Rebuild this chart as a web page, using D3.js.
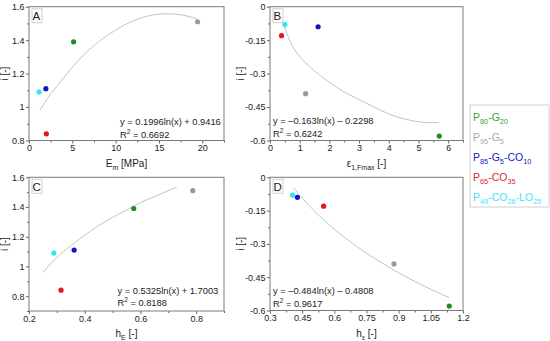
<!DOCTYPE html>
<html><head><meta charset="utf-8">
<script src="https://cdn.jsdelivr.net/npm/d3@7"></script>
<style>body{margin:0;background:#fff} text{font-family:Arial,"Liberation Sans",sans-serif;fill:#222}</style>
</head><body><svg id="c" width="550" height="341"></svg>
<script>
// ---- data ----
const seriesLabels = ["P_{80}-G_{20}", "P_{95}-G_{5}", "P_{85}-G_{5}-CO_{10}", "P_{65}-CO_{35}", "P_{49}-CO_{26}-LO_{25}"];
const seriesColors = ["#1e8c1e", "#999999", "#1414c8", "#e8141e", "#30e6f0"];
const legendColors = ["#36a336", "#a8a8a8", "#2020cc", "#e02828", "#3ee6f2"];

const iTens = [1.39, 1.51, 1.11, 0.84, 1.09];
const iEps = [-0.58, -0.39, -0.09, -0.13, -0.08];
const emVals = [5.15, 19.45, 1.95, 2.0, 1.16];
const epsVals = [5.7, 1.2, 1.62, 0.39, 0.5];
const hEVals = [0.576, 0.788, 0.362, 0.315, 0.289];
const hEpsVals = [1.136, 0.878, 0.428, 0.55, 0.405];

const fitAx = [1.24, 1.74, 2.52, 3.3, 5.2, 7.2, 9.1, 11.0, 13.0, 14.9, 16.1, 17.6, 19.4];
const fitAy = [0.98, 1.02, 1.08, 1.13, 1.25, 1.355, 1.43, 1.49, 1.534, 1.555, 1.558, 1.551, 1.528];
const fitBx = [0.47, 0.61, 0.84, 1.17, 1.61, 2.05, 2.6, 3.16, 3.72, 4.27, 4.83, 5.4, 5.69];
const fitBy = [-0.082, -0.135, -0.195, -0.247, -0.30, -0.344, -0.39, -0.427, -0.464, -0.494, -0.512, -0.52, -0.52];
const fitCx = [0.25, 0.3, 0.35, 0.4, 0.45, 0.5, 0.55, 0.6, 0.65, 0.7, 0.73];
const fitCy = [0.96, 1.06, 1.14, 1.21, 1.275, 1.33, 1.38, 1.43, 1.47, 1.51, 1.533];
const fitDx = [0.41, 0.5, 0.6, 0.7, 0.8, 0.9, 1.0, 1.1, 1.135];
const fitDy = [-0.048, -0.145, -0.234, -0.308, -0.373, -0.43, -0.481, -0.527, -0.542];

const xTicksA = [0, 5, 10, 15, 20];
const xTicksB = [0, 1, 2, 3, 4, 5, 6];
const xTicksC = [0.2, 0.4, 0.6, 0.8];
const xTicksD = [0.3, 0.45, 0.6, 0.75, 0.9, 1.05, 1.2];
const yTicksPos = [0.8, 1, 1.2, 1.4, 1.6];
const yTicksNeg = [0, -0.15, -0.3, -0.45, -0.6];

const equations = ["y = 0.1996ln(x) + 0.9416", "y = \u20130.163ln(x) \u2013 0.2298", "y = 0.5325ln(x) + 1.7003", "y = \u20130.484ln(x) \u2013 0.4808"];
const r2Labels = ["R^{2} = 0.6692", "R^{2} = 0.6242", "R^{2} = 0.8188", "R^{2} = 0.9617"];
const xTitles = ["E_{m} [MPa]", "\u03b5_{1,Fmax} [-]", "h_{E} [-]", "h_{\u03b5} [-]"];
const panelLetters = ["A", "B", "C", "D"];

// ---- layout ----
const panels = [
  {box:[29,224,6.7,140.5], xd:[0,22.5], yd:[0.8,1.6], xs:emVals, ys:iTens, fx:fitAx, fy:fitAy, xt:xTicksA, yt:yTicksPos, eq:[120,125], yl:21},
  {box:[270,463,6.7,140.5], xd:[0,6.5], yd:[-0.6,0], xs:epsVals, ys:iEps, fx:fitBx, fy:fitBy, xt:xTicksB, yt:yTicksNeg, eq:[273,124], yl:26},
  {box:[29,224,177.3,311], xd:[0.2,0.9], yd:[0.7,1.6], xs:hEVals, ys:iTens, fx:fitCx, fy:fitCy, xt:xTicksC, yt:yTicksPos, eq:[117.5,293.5], yl:21},
  {box:[270,463,177.3,310.5], xd:[0.3,1.2], yd:[-0.6,0], xs:hEpsVals, ys:iEps, fx:fitDx, fy:fitDy, xt:xTicksD, yt:yTicksNeg, eq:[273,294], yl:26}
];

const svg = d3.select("#c");

function rich(sel, str, size) {
  const parts = str.split(/(_\{[^}]*\}|\^\{[^}]*\})/).filter(s => s.length);
  let shift = 0;
  parts.forEach(p => {
    let t, fs = size, target;
    if (p.startsWith("_{")) { t = p.slice(2, -1); fs = size * 0.7; target = size * 0.3; }
    else if (p.startsWith("^{")) { t = p.slice(2, -1); fs = size * 0.7; target = -size * 0.38; }
    else { t = p; target = 0; }
    sel.append("tspan").attr("font-size", fs).attr("dy", target - shift).text(t);
    shift = target;
  });
}
const fmt = d => String(+d.toFixed(3));

panels.forEach((p, k) => {
  const [x0, x1, y0, y1] = p.box;
  const x = d3.scaleLinear().domain(p.xd).range([x0, x1]);
  const y = d3.scaleLinear().domain(p.yd).range([y1, y0]);
  const g = svg.append("g");

  // minor ticks
  const xs = p.xt[1] - p.xt[0], ysStep = Math.abs(p.yt[1] - p.yt[0]);
  const xMinor = d3.range(p.xd[0] + xs / 2 - 1e-9, p.xd[1] + 1e-9, xs).filter(v => !p.xt.some(t => Math.abs(t - v) < 1e-6));
  const yMin = Math.min(...p.yt);
  const yMinor = d3.range(yMin - ysStep / 2, p.yd[1] + 1e-9, ysStep / 2).filter(v => v >= p.yd[0] - 1e-9 && !p.yt.some(t => Math.abs(t - v) < 1e-6));

  g.append("g").attr("transform", `translate(0,${y1})`)
    .call(d3.axisBottom(x).tickValues(p.xt).tickSize(3).tickPadding(1.5).tickFormat(fmt));
  g.append("g").attr("transform", `translate(0,${y1})`)
    .call(d3.axisBottom(x).tickValues(xMinor).tickSize(2).tickFormat(""));
  g.append("g").attr("transform", `translate(${x0},0)`)
    .call(d3.axisLeft(y).tickValues(p.yt).tickSize(3).tickPadding(1.5).tickFormat(fmt));
  g.append("g").attr("transform", `translate(${x0},0)`)
    .call(d3.axisLeft(y).tickValues(yMinor).tickSize(2).tickFormat(""));
  g.selectAll(".domain").remove();
  g.selectAll(".tick line").attr("stroke", "#666");
  g.selectAll(".tick text").attr("font-size", 9).attr("fill", "#222").style("font-family", "Arial, 'Liberation Sans', sans-serif");

  g.append("rect").attr("x", x0).attr("y", y0).attr("width", x1 - x0).attr("height", y1 - y0)
    .attr("fill", "none").attr("stroke", "#7a7a7a").attr("stroke-width", 1);

  // fit curve
  const line = d3.line().x(d => x(d[0])).y(d => y(d[1])).curve(d3.curveMonotoneX);
  g.append("path").datum(p.fx.map((v, i) => [v, p.fy[i]])).attr("d", line)
    .attr("fill", "none").attr("stroke", "#c4c4c4").attr("stroke-width", 1);

  // points
  g.selectAll("circle.pt").data(p.xs.map((v, i) => ({x: v, y: p.ys[i], c: seriesColors[i]})))
    .join("circle").attr("class", "pt").attr("cx", d => x(d.x)).attr("cy", d => y(d.y)).attr("r", 2.6).attr("fill", d => d.c);

  // letter box
  g.append("rect").attr("x", x0 + 3).attr("y", y0 + 2).attr("width", 10).attr("height", 14)
    .attr("fill", "#fff").attr("stroke", "#d0d0d0");
  g.append("text").attr("x", x0 + 3.5).attr("y", y0 + 13.5).attr("font-size", 11.5).text(panelLetters[k]);

  // equation
  g.append("text").attr("x", p.eq[0]).attr("y", p.eq[1]).attr("font-size", 9.3).text(equations[k]);
  const r2 = g.append("text").attr("x", p.eq[0]).attr("y", p.eq[1] + 12.5);
  rich(r2, r2Labels[k], 9.3);

  // axis titles
  const xt = g.append("text").attr("x", (x0 + x1) / 2).attr("y", y1 + 26).attr("text-anchor", "middle");
  rich(xt, xTitles[k], 10);
  g.append("text").attr("transform", `translate(${x0 - p.yl},${(y0 + y1) / 2}) rotate(-90)`)
    .attr("text-anchor", "middle").attr("font-size", 10).text("i [-]");
});

// legend
const lg = svg.append("g");
lg.append("rect").attr("x", 470).attr("y", 105).attr("width", 79).attr("height", 102)
  .attr("fill", "#fff").attr("stroke", "#d0d0d0");
seriesLabels.forEach((s, i) => {
  const t = lg.append("text").attr("x", 473).attr("y", 121 + i * 20).attr("font-size", 10.5).style("fill", legendColors[i]);
  rich(t, s, 10.5);
});
</script></body></html>
